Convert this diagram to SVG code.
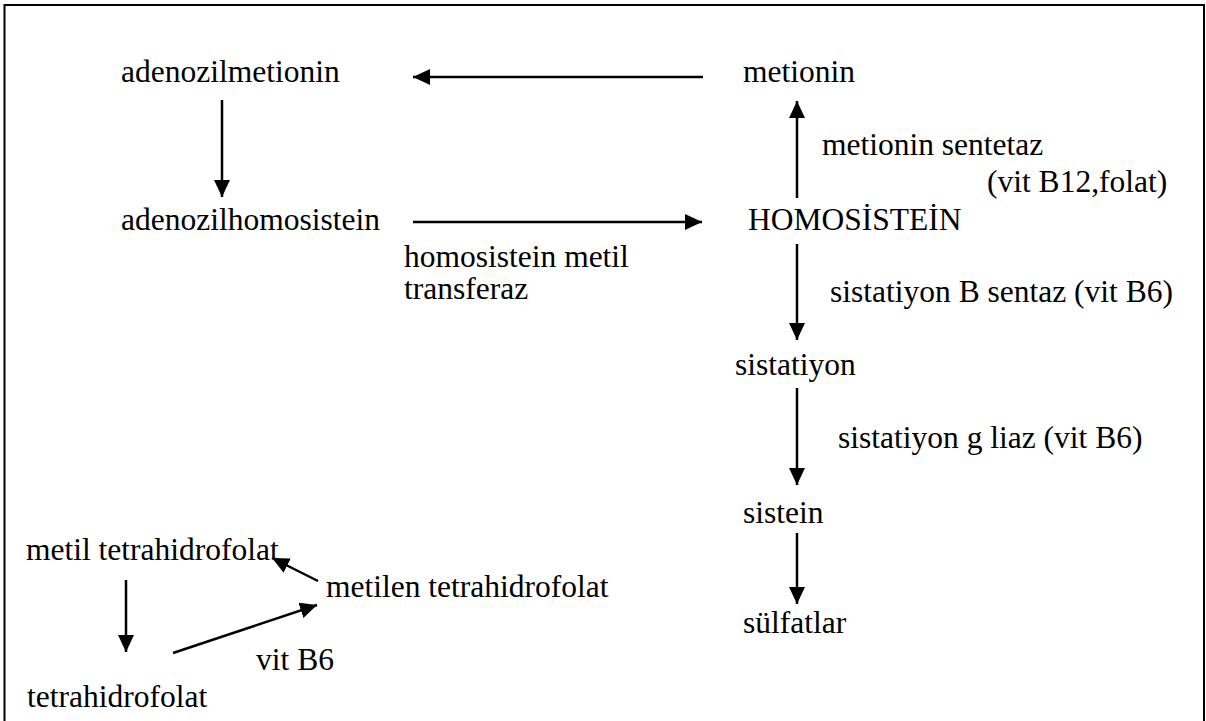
<svg xmlns="http://www.w3.org/2000/svg" width="1206" height="721" viewBox="0 0 1206 721">
<style>
text{font-family:'Liberation Serif','Times New Roman',serif;font-size:31.5px;fill:#000}
.c line{stroke:#000;stroke-width:2.5;marker-end:url(#ah)}
</style>
<defs>
<marker id="ah" markerUnits="userSpaceOnUse" markerWidth="18" markerHeight="16" refX="17" refY="8" orient="auto" viewBox="0 0 18 16">
<path d="M0,0 L17,8 L0,16 z" fill="#000"/>
</marker>
</defs>
<rect x="0" y="0" width="1206" height="721" fill="#fff"/>
<rect id="frame" x="4.5" y="5" width="1199.5" height="740" fill="none" stroke="#000" stroke-width="2"/>
<g id="n-adenozilmetionin"><text x="121" y="82">adenozilmetionin</text></g>
<g id="n-metionin"><text x="743" y="82">metionin</text></g>
<g id="n-adenozilhomosistein"><text x="121" y="230">adenozilhomosistein</text></g>
<g id="n-homosistein"><text x="748" y="230">HOMOSİSTEİN</text></g>
<g id="n-sistatiyon"><text x="735" y="375">sistatiyon</text></g>
<g id="n-sistein"><text x="743" y="523">sistein</text></g>
<g id="n-sulfatlar"><text x="743" y="633">sülfatlar</text></g>
<g id="n-metil-thf"><text x="26" y="560">metil tetrahidrofolat</text></g>
<g id="n-metilen-thf"><text x="326" y="597">metilen tetrahidrofolat</text></g>
<g id="n-thf"><text x="27" y="707">tetrahidrofolat</text></g>
<g id="labels">
<text x="404" y="267">homosistein metil</text>
<text x="404" y="299">transferaz</text>
<text x="822" y="155">metionin sentetaz</text>
<text x="987" y="192">(vit B12,folat)</text>
<text x="830" y="302">sistatiyon B sentaz (vit B6)</text>
<text x="838" y="448">sistatiyon g liaz (vit B6)</text>
<text x="256" y="670">vit B6</text>
</g>
<g id="connectors" class="c">
<line x1="703" y1="77" x2="413" y2="77"/>
<line x1="222" y1="100" x2="222" y2="197"/>
<line x1="413" y1="222" x2="702" y2="222"/>
<line x1="797" y1="198" x2="797" y2="101"/>
<line x1="797" y1="244" x2="797" y2="340"/>
<line x1="797" y1="388" x2="797" y2="485"/>
<line x1="797" y1="533" x2="797" y2="604"/>
<line x1="126" y1="580" x2="126" y2="652"/>
<line x1="173" y1="653" x2="317" y2="605"/>
<line x1="318" y1="581" x2="272" y2="558"/>
</g>
</svg>
